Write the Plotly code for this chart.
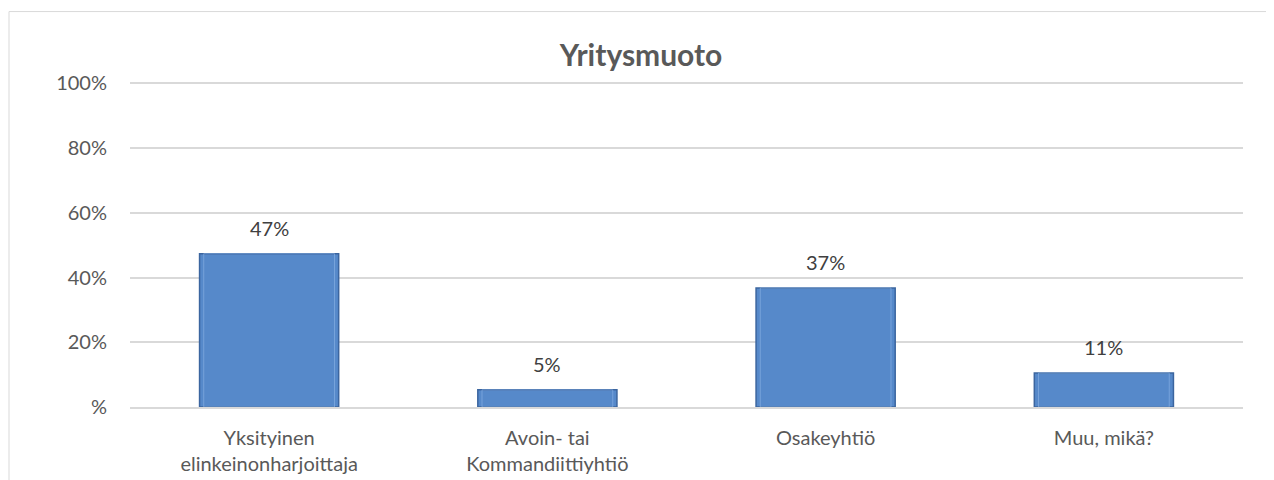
import plotly.graph_objects as go

categories = ["Yksityinen<br>elinkeinonharjoittaja", "Avoin- tai<br>Kommandiittiyhtiö", "Osakeyhtiö", "Muu, mikä?"]
values = [47.4, 5.3, 36.8, 10.5]
tick_vals = [0, 20, 40, 60, 80, 100]
tick_text = ["%", "20%", "40%", "60%", "80%", "100%"]
title_text = "Yritysmuoto"

FONT = "Lato, Calibri, Carlito, sans-serif"
GRAY = "#595959"

W, H = 1266, 472  # page body has 8px margin
YMAX = 102
PX = 3.24  # pixels per percent
L, PW = 122, 1113
PH = YMAX * PX
T = 75 - (YMAX - 100) * PX

fig = go.Figure()
fig.add_trace(go.Bar(
    x=categories, y=values,
    width=0.5,
    marker=dict(color="#5689CA", line=dict(color="#3B659F", width=1.5)),
    hoverinfo="skip",
))
fig.add_trace(go.Bar(
    x=categories, y=values,
    width=0.47,
    marker=dict(color="rgba(0,0,0,0)", line=dict(color="rgba(140,180,230,0.6)", width=1)),
    hoverinfo="skip",
))

annotations = [
    dict(x=c, y=v, xref="x", yref="y", text=f"{int(v + 0.5)}%", showarrow=False,
         yanchor="bottom", yshift=12, font=dict(size=20, color="#404040", family=FONT))
    for c, v in zip(categories, values)
]

fig.update_layout(
    width=W, height=H,
    barmode="overlay",
    showlegend=False,
    paper_bgcolor="white", plot_bgcolor="white",
    margin=dict(l=L, r=W - L - PW, t=T, b=H - T - PH, autoexpand=False),
    title=dict(text=f"<b>{title_text}</b>", x=0.5, xanchor="center", y=1 - 47/H, yanchor="middle",
               font=dict(size=30, color=GRAY, family=FONT)),
    font=dict(family=FONT, color=GRAY),
    annotations=annotations,
    shapes=[dict(type="rect", xref="paper", yref="paper",
                 x0=(1 - L) / PW, x1=1.2, y0=-0.4, y1=(T + PH - 3) / PH,
                 line=dict(color="#D9D9D9", width=1), fillcolor="rgba(0,0,0,0)", layer="below")],
)
fig.update_xaxes(
    automargin=False,
    showgrid=False, showline=True, linecolor="#D9D9D9", linewidth=1.5,
    ticks="", tickfont=dict(size=20, color=GRAY, family=FONT), ticklabelstandoff=12,
)
fig.update_yaxes(
    automargin=False,
    range=[0, YMAX], tickvals=tick_vals, ticktext=tick_text,
    showgrid=True, gridcolor="#D9D9D9", gridwidth=1.5,
    zeroline=False, showline=False, ticks="",
    tickfont=dict(size=20, color=GRAY, family=FONT), ticklabelstandoff=22,
)
fig.write_html("out.html")
